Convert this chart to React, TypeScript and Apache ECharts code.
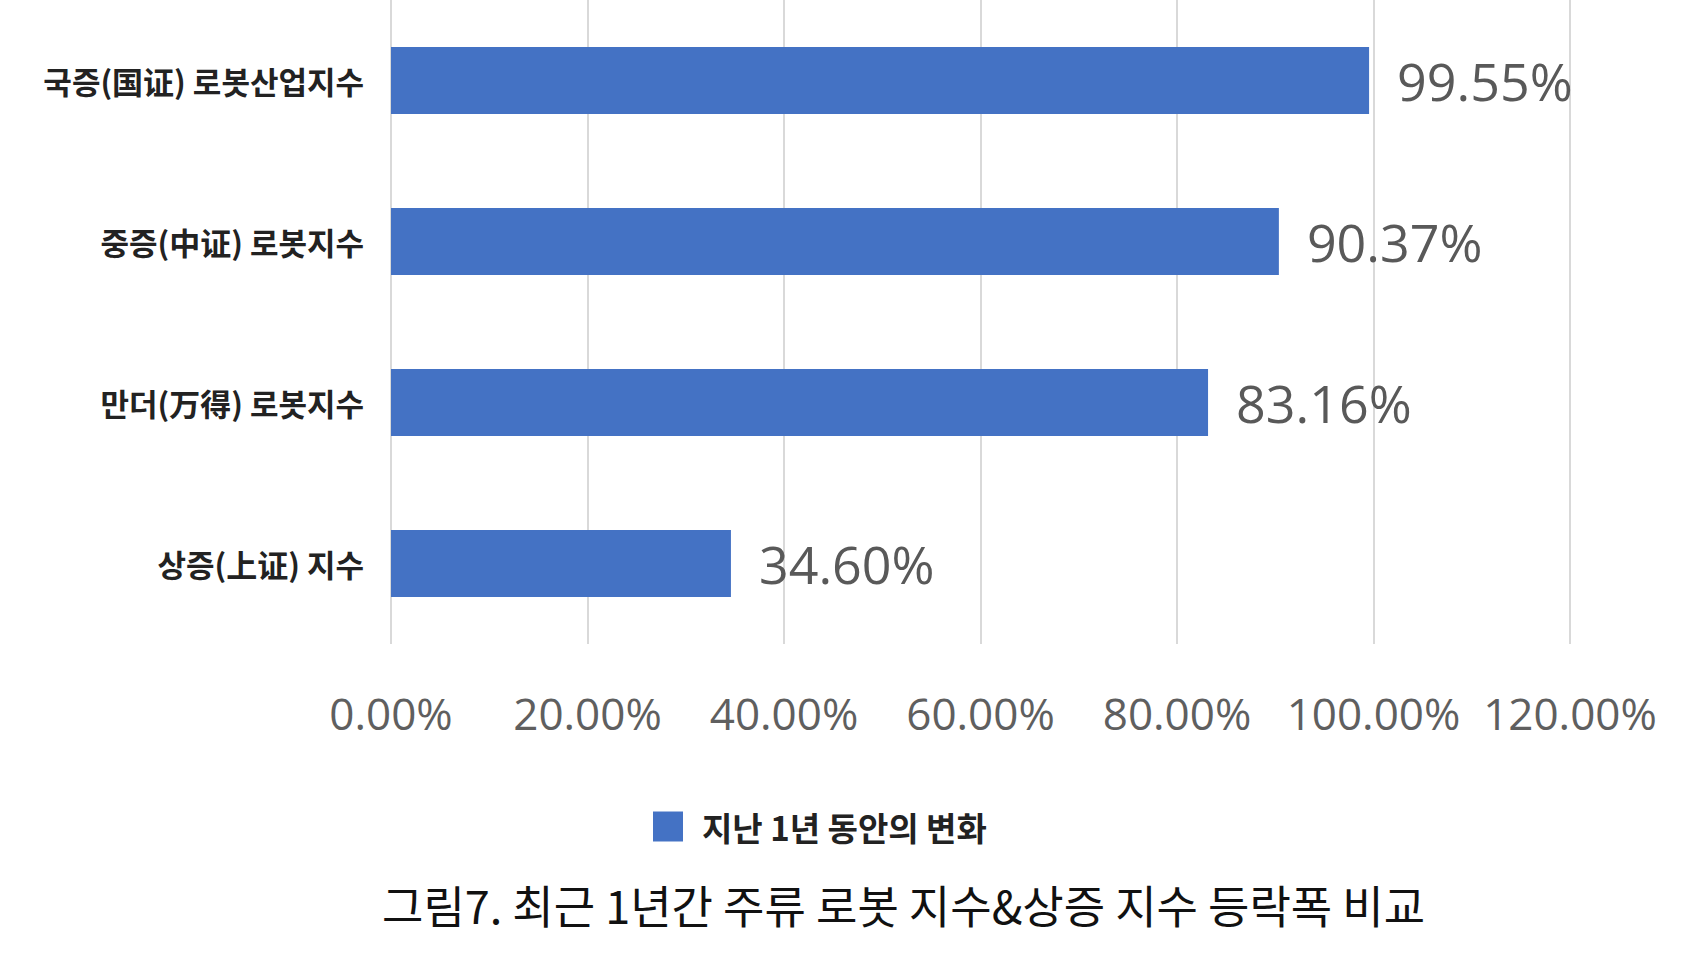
import React, { useEffect, useRef } from "react";
import * as echarts from "echarts";

const categories = [
  "국증(国证) 로봇산업지수",
  "중증(中证) 로봇지수",
  "만더(万得) 로봇지수",
  "상증(上证) 지수",
];
const values = [99.55, 90.37, 83.16, 34.6];
const seriesName = "지난 1년 동안의 변화";
const caption = "그림7. 최근 1년간 주류 로봇 지수&상증 지수 등락폭 비교";
const xMin = 0;
const xMax = 120;
const xInterval = 20;

export default function App() {
  const ref = useRef<HTMLDivElement>(null);
  useEffect(() => {
    if (!ref.current) return;
    const chart = echarts.init(ref.current, undefined, { renderer: "svg" });
    chart.setOption({
      animation: false,
      backgroundColor: "#ffffff",
      title: {
        text: caption,
        left: 382,
        top: 877,
        padding: 0,
        textStyle: {
          fontFamily: "'Noto Sans CJK KR', 'Noto Sans', sans-serif",
          fontSize: 45,
          fontWeight: "normal",
          color: "#111111",
          lineHeight: 54,
        },
      },
      legend: {
        data: [seriesName],
        left: 653,
        top: 810,
        padding: 0,
        icon: "rect",
        itemWidth: 30,
        itemHeight: 30,
        textStyle: {
          fontFamily: "'Noto Sans CJK KR', sans-serif",
          fontSize: 33,
          fontWeight: "bold",
          color: "#222222",
          padding: [0, 0, 0, 14],
        },
      },
      grid: {
        left: 391,
        right: 135,
        top: -6,
        bottom: 325,
        containLabel: false,
      },
      xAxis: {
        type: "value",
        min: xMin,
        max: xMax,
        interval: xInterval,
        axisLine: { show: false },
        axisTick: { show: false },
        splitLine: { show: true, lineStyle: { color: "#d9d9d9", width: 2 } },
        axisLabel: {
          margin: 47,
          fontFamily: "'Open Sans', 'Noto Sans', sans-serif",
          fontSize: 44,
          color: "#5f5f5f",
          formatter: (v: number) => v.toFixed(2) + "%",
        },
      },
      yAxis: {
        type: "category",
        data: categories,
        inverse: true,
        axisLine: { show: false },
        axisTick: { show: false },
        axisLabel: {
          margin: 27,
          fontFamily: "'Noto Sans CJK KR', sans-serif",
          fontSize: 31,
          fontWeight: "bold",
          color: "#222222",
        },
      },
      series: [
        {
          name: seriesName,
          type: "bar",
          data: values,
          barWidth: 67,
          itemStyle: { color: "#4472c4" },
          label: {
            show: true,
            position: "right",
            distance: 28,
            fontFamily: "'Open Sans', 'Noto Sans', sans-serif",
            fontSize: 52,
            color: "#595959",
            formatter: (p: any) => Number(p.value).toFixed(2) + "%",
          },
        },
      ],
    });
    return () => chart.dispose();
  }, []);
  return (
    <div
      ref={ref}
      style={{ position: "fixed", left: 0, top: 0, width: 1705, height: 969 }}
    />
  );
}
